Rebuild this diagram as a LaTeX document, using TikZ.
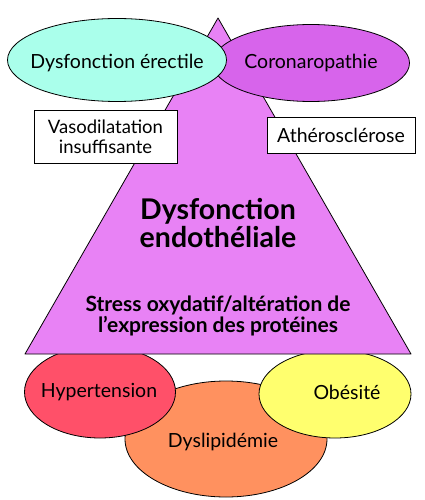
\documentclass[tikz,border=0pt]{standalone}
\usepackage{fontspec}
\setmainfont{Lato}
\usetikzlibrary{shapes.geometric}
\definecolor{tri}{HTML}{E882F5}
\definecolor{coro}{HTML}{D764EB}
\definecolor{dysf}{HTML}{AAFFEB}
\definecolor{hyper}{HTML}{FF5069}
\definecolor{dysl}{HTML}{FF915F}
\definecolor{obes}{HTML}{FFFF6E}
\tikzset{
  oval/.style={ellipse, draw=black, line width=0.8pt, inner sep=0pt},
  lbl/.style={font=\fontsize{19.5}{21}\selectfont},
  lbox/.style={rectangle, draw=black, line width=0.8pt, fill=white, align=center, inner sep=0pt},
}
\begin{document}
\begin{tikzpicture}[x=1pt,y=-1pt]
\useasboundingbox (0,0) rectangle (424,500);
% bottom ellipses
\node[oval, fill=dysl, minimum width=202pt, minimum height=116pt] (dyl) at (226,439) {};
\node[oval, fill=hyper, minimum width=151pt, minimum height=92pt] (hyp) at (100,392) {};
\node[oval, fill=obes, minimum width=152pt, minimum height=88pt] (obe) at (335,394) {};
\node[lbl] (hypt) at (99,392) {Hypertension};
\node[lbl] (obet) at (347,392) {Obésité};
\node[lbl] (dylt) at (223,442) {Dyslipidémie};
% triangle
\coordinate (apex) at (218,18);
\coordinate (bl) at (25,354);
\coordinate (br) at (411,354);
\draw[fill=tri, line width=0.8pt, line join=round] (apex) -- (br) -- (bl) -- cycle;
% top ellipses
\node[oval, fill=coro, minimum width=197pt, minimum height=77pt] (cor) at (311,63) {};
\node[lbl] (cort) at (311,63) {Coronaropathie};
\node[oval, fill=dysf, minimum width=219pt, minimum height=83pt] (dye) at (117,60) {};
\node[lbl] (dyet) at (117,63) {Dysfonction érectile};
% boxes
\node[lbox, minimum width=143pt, minimum height=53pt, font=\fontsize{18.5}{20}\selectfont] (vaso) at (105.5,136.5) {Vasodilatation\\insuffisante};
\node[lbox, minimum width=148pt, minimum height=36pt, font=\fontsize{19.5}{21}\selectfont] (athe) at (341,135) {Athérosclérose};
% central texts
\node[align=center, font=\fontsize{28.5}{28}\selectfont\bfseries] (endo) at (218,223) {Dysfonction\\endothéliale};
\node[align=center, font=\fontsize{21}{19.5}\selectfont\bfseries] (stress) at (218,316) {Stress oxydatif/altération de\\l’expression des protéines};
\end{tikzpicture}
\end{document}
